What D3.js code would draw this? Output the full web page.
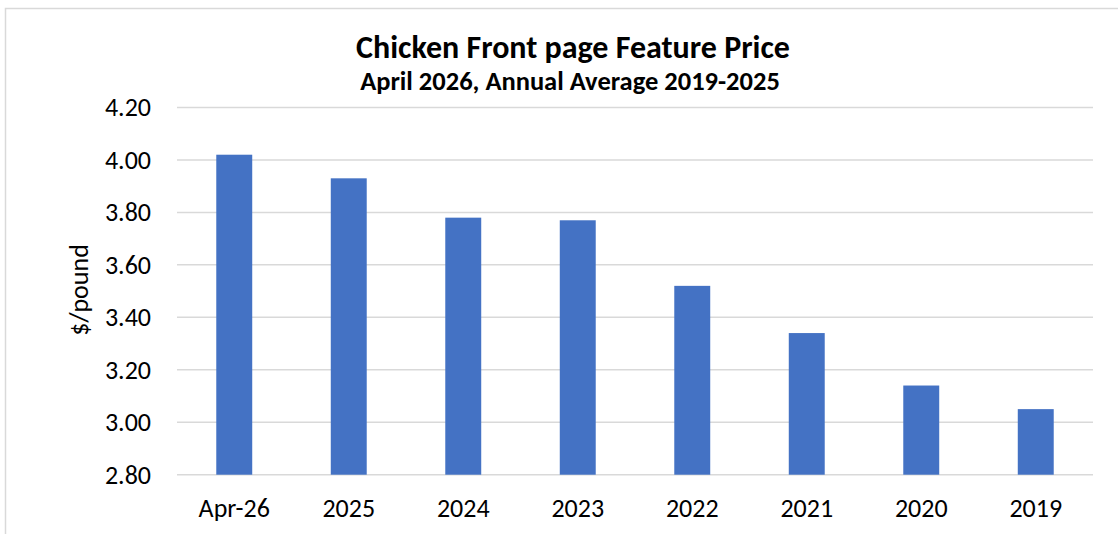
<!DOCTYPE html>
<html>
<head>
<meta charset="utf-8">
<script src="https://cdn.jsdelivr.net/npm/d3@7"></script>
<style>
  html, body { margin: 0; padding: 0; background: #fff; }
  svg { display: block; }
  text { font-family: Carlito, Lato, "Open Sans", sans-serif; fill: #000; }
</style>
</head>
<body>
<svg id="chart" width="1118" height="534"></svg>
<script>
const categories = ["Apr-26", "2025", "2024", "2023", "2022", "2021", "2020", "2019"];
const values = [4.02, 3.93, 3.78, 3.77, 3.52, 3.34, 3.14, 3.05];
const yTicks = [2.80, 3.00, 3.20, 3.40, 3.60, 3.80, 4.00, 4.20];
const titleText = "Chicken Front page Feature Price";
const subtitleText = "April 2026, Annual Average 2019-2025";
const yLabel = "$/pound";

const svg = d3.select("#chart");
const W = 1118, H = 534;
const m = { left: 177, right: 1093, top: 107.5, bottom: 474.7 };
const FONT = "Carlito, Lato, 'Open Sans', sans-serif";

// chart border (top + left visible)
svg.append("path")
  .attr("d", `M5.5,${H} L5.5,8.5 L${W},8.5`)
  .attr("fill", "none").attr("stroke", "#d9d9d9").attr("stroke-width", 1.5);

const x = d3.scaleBand().domain(categories).range([m.left, m.right])
  .paddingInner(0.686).paddingOuter(0.343);
const y = d3.scaleLinear().domain([2.8, 4.2]).range([m.bottom, m.top]);

// grid
svg.append("g").selectAll("line").data(yTicks).join("line")
  .attr("x1", m.left).attr("x2", m.right)
  .attr("y1", d => y(d)).attr("y2", d => y(d))
  .attr("stroke", "#d9d9d9").attr("stroke-width", 1.5);

// bars
svg.append("g").selectAll("rect").data(values).join("rect")
  .attr("x", (d, i) => x(categories[i]))
  .attr("width", x.bandwidth())
  .attr("y", d => y(d))
  .attr("height", d => y(2.8) - y(d))
  .attr("fill", "#4472c4");

// y axis
const yAxis = d3.axisLeft(y).tickValues(yTicks).tickFormat(d3.format(".2f")).tickSize(0).tickPadding(0);
const gy = svg.append("g").attr("transform", `translate(151,0)`).call(yAxis);
gy.select(".domain").remove();
gy.selectAll("text").attr("font-size", 26).attr("fill", "#000").style("font-family", FONT);

// x axis
const xAxis = d3.axisBottom(x).tickSize(0).tickPadding(0);
const gx = svg.append("g").attr("transform", `translate(0,${m.bottom})`).call(xAxis);
gx.select(".domain").remove();
gx.selectAll("text").attr("font-size", 26).attr("fill", "#000").attr("dy", null).attr("y", 42)
  .style("font-family", FONT);

// titles
svg.append("text").attr("x", 573).attr("y", 58).attr("text-anchor", "middle")
  .attr("font-size", 32).attr("font-weight", "bold").text(titleText);
svg.append("text").attr("x", 570).attr("y", 90).attr("text-anchor", "middle")
  .attr("font-size", 26.5).attr("font-weight", "bold").text(subtitleText);

// y label
svg.append("text").attr("transform", "translate(88,290) rotate(-90)")
  .attr("text-anchor", "middle").attr("font-size", 26).text(yLabel);
</script>
</body>
</html>
